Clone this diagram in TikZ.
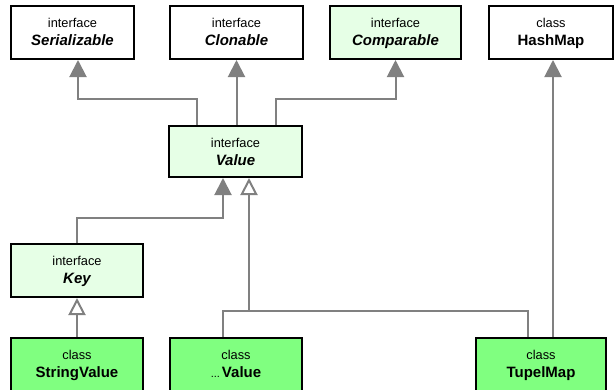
\documentclass[tikz,border=0pt]{standalone}
\usepackage{fontspec}
\setmainfont{Liberation Sans}
\usetikzlibrary{arrows.meta,calc}

\definecolor{conn}{RGB}{128,128,128}
\definecolor{ifacefill}{RGB}{230,255,230}
\definecolor{classfill}{RGB}{128,255,128}

\tikzset{
  umlbox/.style={draw=black, line width=2pt, inner sep=0pt, minimum height=53pt},
  plainbox/.style={umlbox, fill=white},
  ifacebox/.style={umlbox, fill=ifacefill},
  classbox/.style={umlbox, fill=classfill, minimum height=60pt},
  kindtext/.style={anchor=base, inner sep=0pt, font=\fontsize{12.8}{13}\selectfont},
  nametext/.style={anchor=base, inner sep=0pt, font=\fontsize{15}{16}\selectfont\bfseries},
  gen/.style={draw=conn, line width=2pt, -{Triangle[width=17pt,length=17pt]}},
  real/.style={draw=conn, line width=2pt, -{Triangle[open,width=17pt,length=17pt]}},
}

\begin{document}
\begin{tikzpicture}[x=1pt, y=-1pt]
  \useasboundingbox (0,0) rectangle (615,389);
  \clip (0,0) rectangle (615,389);

  % top row
  \node[plainbox, minimum width=123pt] (ser)  at (72.5,32.5) {};
  \node[plainbox, minimum width=133pt] (clo)  at (236.5,32.5) {};
  \node[ifacebox, minimum width=131pt] (com)  at (395.5,32.5) {};
  \node[plainbox, minimum width=124pt] (hash) at (551,32.5) {};
  % middle
  \node[ifacebox, minimum width=133pt, minimum height=51pt] (val) at (235.5,151.5) {};
  \node[ifacebox, minimum width=132pt] (key) at (77,270.5) {};
  % bottom row
  \node[classbox, minimum width=132pt] (sv) at (77,368) {};
  \node[classbox, minimum width=132pt] (dv) at (236,368) {};
  \node[classbox, minimum width=130pt] (tm) at (541,368) {};

  % labels
  \node[kindtext] (ser-k) at ($(ser.north)+(0,22)$) {interface};
  \node[nametext] (ser-n) at ($(ser.north)+(0,40)$) {\itshape Serializable};
  \node[kindtext] (clo-k) at ($(clo.north)+(0,22)$) {interface};
  \node[nametext] (clo-n) at ($(clo.north)+(0,40)$) {\itshape Clonable};
  \node[kindtext] (com-k) at ($(com.north)+(0,22)$) {interface};
  \node[nametext] (com-n) at ($(com.north)+(0,40)$) {\itshape Comparable};
  \node[kindtext] (hash-k) at ($(hash.north)+(0,22)$) {class};
  \node[nametext] (hash-n) at ($(hash.north)+(0,40)$) {HashMap};
  \node[kindtext] (val-k) at ($(val.north)+(0,22)$) {interface};
  \node[nametext] (val-n) at ($(val.north)+(0,40)$) {\itshape Value};
  \node[kindtext] (key-k) at ($(key.north)+(0,22)$) {interface};
  \node[nametext] (key-n) at ($(key.north)+(0,40)$) {\itshape Key};
  \node[kindtext] (sv-k) at ($(sv.north)+(0,22)$) {class};
  \node[nametext] (sv-n) at ($(sv.north)+(0,40)$) {StringValue};
  \node[kindtext] (dv-k) at ($(dv.north)+(0,22)$) {class};
  \node[nametext] (dv-n) at ($(dv.north)+(0,40)$) {{\mdseries\fontsize{11}{12}\selectfont...}\hspace{2pt}Value};
  \node[kindtext] (tm-k) at ($(tm.north)+(0,22)$) {class};
  \node[nametext] (tm-n) at ($(tm.north)+(0,40)$) {TupelMap};

  % routing heights
  \coordinate (upper) at (0,99);
  \coordinate (mid)   at (0,218);
  \coordinate (lower) at (0,311);

  % Value extends Serializable, Clonable, Comparable
  \coordinate (v1) at ([xshift=-38.5pt]val.north);
  \coordinate (v3) at ([xshift=40.5pt]val.north);
  \coordinate (s1) at ([xshift=5.5pt]ser.south);
  \draw[gen] (v1) -- (v1 |- upper) -| (s1);
  \draw[gen] (val.north -| clo.south) -- (clo.south);
  \draw[gen] (v3) -- (v3 |- upper) -| (com.south);

  % TupelMap extends HashMap
  \coordinate (h1) at ([xshift=2pt]hash.south);
  \draw[gen] (tm.north -| h1) -- (h1);

  % Key extends Value
  \coordinate (v4) at ([xshift=-12.5pt]val.south);
  \draw[gen] (key.north) -- (key.north |- mid) -| (v4);

  % classes implementing Value
  \coordinate (v5) at ([xshift=13.5pt]val.south);
  \coordinate (d1) at ([xshift=-13pt]dv.north);
  \coordinate (t1) at ([xshift=-13pt]tm.north);
  \draw[draw=conn, line width=2pt] (d1) -- (d1 |- lower) -| (t1);
  \draw[real] (v5 |- lower) -- (v5);

  % StringValue implements Key
  \draw[real] (sv.north) -- (key.south);
\end{tikzpicture}
\end{document}
